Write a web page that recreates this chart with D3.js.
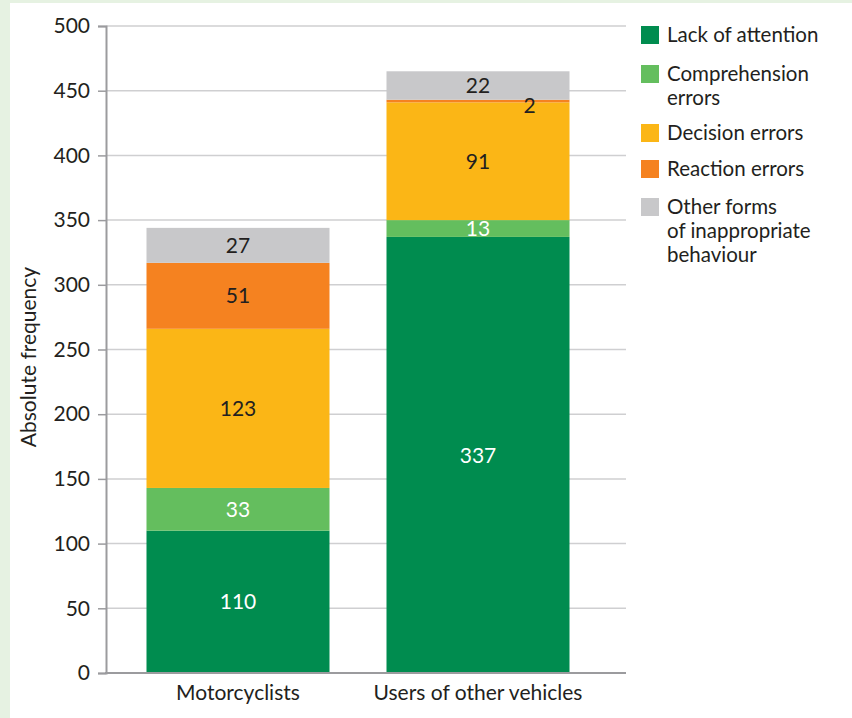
<!DOCTYPE html>
<html><head><meta charset="utf-8">
<script src="https://cdn.jsdelivr.net/npm/d3@7"></script>
<style>
html,body{margin:0;padding:0;background:#e6f2e2;}
svg{display:block;}
text{font-family:Lato,"Open Sans",sans-serif;font-weight:400;}
</style></head>
<body>
<script>
const categories = ["Motorcyclists", "Users of other vehicles"];
const seriesNames = ["Lack of attention", "Comprehension errors", "Decision errors", "Reaction errors", "Other forms of inappropriate behaviour"];
const legendLines = [["Lack of attention"], ["Comprehension", "errors"], ["Decision errors"], ["Reaction errors"], ["Other forms", "of inappropriate", "behaviour"]];
const lackOfAttention = [110, 337];
const comprehensionErrors = [33, 13];
const decisionErrors = [123, 91];
const reactionErrors = [51, 2];
const otherForms = [27, 22];
const yTicks = [0, 50, 100, 150, 200, 250, 300, 350, 400, 450, 500];
const colors = ["#008c4f", "#64be5e", "#fbb616", "#f58220", "#c8c8ca"];
const labelColors = ["#ffffff", "#ffffff", "#231f20", "#231f20", "#231f20"];

const series = [lackOfAttention, comprehensionErrors, decisionErrors, reactionErrors, otherForms];

const W = 852, H = 718;
const svg = d3.select("body").append("svg").attr("width", W).attr("height", H);
svg.append("rect").attr("x", 10).attr("y", 3).attr("width", W - 10).attr("height", H - 3).attr("fill", "#ffffff");

const x0 = 106, x1 = 626;
const y = d3.scaleLinear().domain([0, 500]).range([673, 26]);
const x = d3.scaleBand().domain(categories).range([126, 590]).paddingInner(0.2375).paddingOuter(0.0854);

// gridlines
svg.append("g").selectAll("line").data(yTicks.filter(d => d > 0)).join("line")
  .attr("x1", x0).attr("x2", x1).attr("y1", d => y(d)).attr("y2", d => y(d))
  .attr("stroke", "#cfcfd1").attr("stroke-width", 1.5);

// y axis
const yAxis = d3.axisLeft(y).tickValues(yTicks).tickSize(8).tickPadding(8);
const gy = svg.append("g").attr("transform", `translate(${x0},0)`).call(yAxis);
gy.select(".domain").attr("stroke", "#9b9b9e").attr("stroke-width", 2);
gy.selectAll(".tick line").attr("stroke", "#9b9b9e").attr("stroke-width", 1.5);
gy.selectAll(".tick text").attr("fill", "#231f20").style("font-size", "21px").style("font-family", "Lato,sans-serif").style("font-weight", "400");

// stacks
const rows = categories.map((c, i) => {
  const o = {cat: c};
  seriesNames.forEach((s, j) => o[s] = series[j][i]);
  return o;
});
const stack = d3.stack().keys(seriesNames)(rows);

stack.forEach((layer, j) => {
  svg.append("g").selectAll("rect").data(layer).join("rect")
    .attr("x", d => x(d.data.cat)).attr("width", x.bandwidth())
    .attr("y", d => y(d[1])).attr("height", d => y(d[0]) - y(d[1]))
    .attr("fill", colors[j]);
});

// x axis baseline
svg.append("line").attr("x1", x0 - 1).attr("x2", x1).attr("y1", y(0)).attr("y2", y(0))
  .attr("stroke", "#9b9b9e").attr("stroke-width", 2);

// value labels
stack.forEach((layer, j) => {
  svg.append("g").selectAll("text").data(layer).join("text")
    .attr("x", d => {
      const v = d[1] - d[0];
      return v < 5 ? x(d.data.cat) + x.bandwidth() - 40 : x(d.data.cat) + x.bandwidth() / 2;
    })
    .attr("y", d => {
      const v = d[1] - d[0];
      return v < 5 ? y(d[0]) + 3 : y((d[0] + d[1]) / 2);
    })
    .attr("dy", "0.36em").attr("text-anchor", "middle")
    .attr("fill", labelColors[j]).style("font-size", "21px")
    .text(d => d[1] - d[0]);
});

// category labels
svg.append("g").selectAll("text").data(categories).join("text")
  .attr("x", d => x(d) + x.bandwidth() / 2).attr("y", 700)
  .attr("text-anchor", "middle").attr("fill", "#231f20").style("font-size", "21px")
  .text(d => d);

// y title
svg.append("text").attr("transform", "translate(36,357) rotate(-90)")
  .attr("text-anchor", "middle").attr("fill", "#231f20").style("font-size", "21px")
  .text("Absolute frequency");

// legend
const legendY = [26, 65, 124, 160, 198];
const lg = svg.append("g");
seriesNames.forEach((s, j) => {
  lg.append("rect").attr("x", 641).attr("y", legendY[j]).attr("width", 18).attr("height", 18).attr("fill", colors[j]);
  const t = lg.append("text").attr("x", 667).attr("y", legendY[j] + 16).attr("fill", "#231f20").style("font-size", "20.5px");
  legendLines[j].forEach((line, k) => {
    t.append("tspan").attr("x", 667).attr("dy", k === 0 ? 0 : 24).text(line);
  });
});
</script>
</body></html>
